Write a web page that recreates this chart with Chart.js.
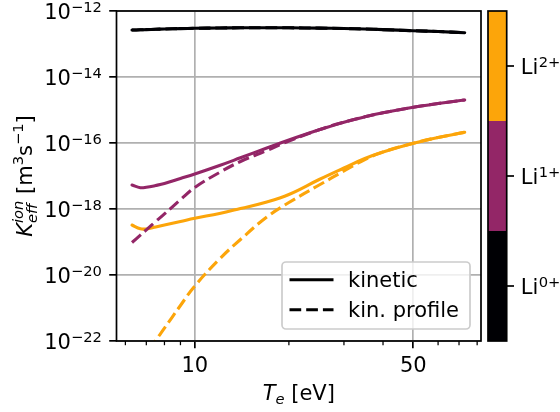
<!DOCTYPE html>
<html><head><meta charset="utf-8">
<script src="https://cdn.jsdelivr.net/npm/chart.js@4"></script>
<style>html,body{margin:0;padding:0;background:#fff}canvas{display:block}</style>
</head><body>
<canvas id="c" width="560" height="412"></canvas>
<script>
// ---- data ----
const temperatures = [6.3, 6.7, 7, 7.5, 8, 9, 10, 12, 14, 17, 20, 25, 30, 35, 40, 50, 60, 73];
const li0Kinetic = [2.65e-13, 2.69e-13, 2.73e-13, 2.79e-13, 2.85e-13, 2.93e-13, 2.99e-13, 3.05e-13, 3.10e-13, 3.12e-13, 3.10e-13, 3.03e-13, 2.95e-13, 2.85e-13, 2.73e-13, 2.53e-13, 2.39e-13, 2.20e-13];
const li0Profile = [2.65e-13, 2.69e-13, 2.73e-13, 2.79e-13, 2.85e-13, 2.93e-13, 2.99e-13, 3.05e-13, 3.10e-13, 3.12e-13, 3.10e-13, 3.03e-13, 2.95e-13, 2.85e-13, 2.73e-13, 2.53e-13, 2.39e-13, 2.20e-13];
const li1Kinetic = [5.33e-18, 4.42e-18, 4.55e-18, 5.15e-18, 5.93e-18, 8.39e-18, 1.15e-17, 2.08e-17, 3.56e-17, 7.05e-17, 1.23e-16, 2.51e-16, 4.27e-16, 6.22e-16, 8.22e-16, 1.21e-15, 1.57e-15, 2.01e-15];
const li1Profile = [9.66e-20, 1.62e-19, 2.33e-19, 4.18e-19, 7.11e-19, 1.91e-18, 4.49e-18, 1.28e-17, 2.75e-17, 5.93e-17, 1.15e-16, 2.51e-16, 4.27e-16, 6.22e-16, 8.22e-16, 1.21e-15, 1.57e-15, 2.01e-15];
const li2Kinetic = [3.27e-19, 2.51e-19, 2.48e-19, 2.85e-19, 3.27e-19, 4.18e-19, 5.23e-19, 7.31e-19, 1.035e-18, 1.63e-18, 2.75e-18, 7.83e-18, 1.75e-17, 3.39e-17, 5.33e-17, 9.80e-17, 1.47e-16, 2.11e-16];
const li2Profile = [7.16e-24, 1.94e-23, 3.82e-23, 1.04e-22, 2.44e-22, 1.19e-21, 4.64e-21, 3.05e-20, 1.19e-19, 5.73e-19, 1.57e-18, 5.33e-18, 1.42e-17, 3.16e-17, 5.33e-17, 9.80e-17, 1.47e-16, 2.11e-16];

const xMajorTicks = [10, 50];
const xMinorTicks = [6, 7, 8, 9, 20, 30, 40, 60, 70, 80];
const yTickExponents = [-22, -20, -18, -16, -14, -12];
const chargeStates = ['0+', '1+', '2+'];
const stateColors = ['#000004', '#932667', '#fca50a'];
const legendLabels = ['kinetic', 'kin. profile'];

// ---- styling ----
const FONT = '"DejaVu Sans"';
const FS = 21, FSS = 14.7;
const LW = 3.1, DASH = [11.7, 5.0];

function series(vals) { return temperatures.map((t, i) => ({ x: t, y: vals[i] })); }
function ds(label, vals, color, dashed) {
  return {
    label, data: series(vals), borderColor: color, backgroundColor: color,
    borderWidth: LW, borderDash: dashed ? DASH : [], borderCapStyle: dashed ? 'butt' : 'round',
    pointRadius: 0, tension: 0.4, clip: 0, fill: false
  };
}

function runs(c, x, y, list, draw) {
  let cx = x;
  for (const r of list) {
    if (r.stack) {
      let w = 0;
      for (const q of r.stack) {
        c.font = (q.it ? 'italic ' : '') + q.s + 'px ' + FONT;
        if (draw) c.fillText(q.t, cx, y + (q.dy || 0));
        w = Math.max(w, c.measureText(q.t).width);
      }
      cx += w;
    } else {
      c.font = (r.it ? 'italic ' : '') + r.s + 'px ' + FONT;
      if (draw) c.fillText(r.t, cx, y + (r.dy || 0));
      cx += c.measureText(r.t).width;
    }
  }
  return cx - x;
}

const decor = {
  id: 'decor',
  afterDatasetsDraw(chart) {
    const c = chart.ctx, a = chart.chartArea;
    c.save();
    c.strokeStyle = '#000'; c.lineWidth = 1.7;
    c.strokeRect(a.left, a.top, a.right - a.left, a.bottom - a.top);
    c.restore();
  },
  afterDraw(chart) {
    const c = chart.ctx, a = chart.chartArea;
    const xs = chart.scales.x, ys = chart.scales.y;
    c.save();
    c.fillStyle = '#000'; c.strokeStyle = '#000'; c.textBaseline = 'alphabetic';
    // minor x ticks
    c.lineWidth = 1.26;
    for (const v of xMinorTicks) {
      const px = xs.getPixelForValue(v);
      c.beginPath(); c.moveTo(px, a.bottom); c.lineTo(px, a.bottom + 4.2); c.stroke();
    }
    // y tick labels 10^e
    const right = a.left - 7.3 - 7.3;
    for (const e of yTickExponents) {
      const py = ys.getPixelForValue(Math.pow(10, e));
      const sup = '\u2212' + Math.abs(e);
      c.font = FSS + 'px ' + FONT; const ws = c.measureText(sup).width;
      c.font = FS + 'px ' + FONT; const wb = c.measureText('10').width;
      c.fillText('10', right - ws - wb, py + 7.5);
      c.font = FSS + 'px ' + FONT;
      c.fillText(sup, right - ws, py + 1.2);
    }
    // x axis label
    const xl = [{ t: 'T', s: FS, it: true }, { t: 'e', s: FSS, it: true, dy: 4.5 }, { t: ' [eV]', s: FS }];
    const wx = runs(c, 0, 0, xl, false);
    runs(c, (a.left + a.right) / 2 - wx / 2, 399.5, xl, true);
    // y axis label (rotated)
    const yl = [{ t: 'K', s: FS, it: true },
      { stack: [{ t: 'eff', s: FSS, it: true, dy: 5 }, { t: 'ion', s: FSS, it: true, dy: -8.5 }] },
      { t: ' [m', s: FS }, { t: '3', s: FSS, dy: -8.5 }, { t: 's', s: FS }, { t: '\u22121', s: FSS, dy: -8.5 }, { t: ']', s: FS }];
    const wy = runs(c, 0, 0, yl, false);
    c.save();
    c.translate(31.5, (a.top + a.bottom) / 2);
    c.rotate(-Math.PI / 2);
    runs(c, -wy / 2, 0, yl, true);
    c.restore();
    // legend
    const bw = 188, bh = 67;
    const bx = a.right - 11 - bw, by = a.bottom - 12 - bh;
    c.save();
    c.beginPath(); c.roundRect(bx, by, bw, bh, 4);
    c.fillStyle = 'rgba(255,255,255,0.8)'; c.fill();
    c.strokeStyle = '#cccccc'; c.lineWidth = 1.7; c.stroke();
    c.restore();
    legendLabels.forEach((lab, i) => {
      const cy = by + 17.7 + i * 30;
      c.save();
      c.strokeStyle = '#000'; c.lineWidth = LW;
      c.setLineDash(i === 1 ? DASH : []);
      c.beginPath(); c.moveTo(bx + 7.5, cy); c.lineTo(bx + 51.5, cy); c.stroke();
      c.restore();
      c.font = FS + 'px ' + FONT; c.fillStyle = '#000';
      c.fillText(lab, bx + 66, cy + 7);
    });
    // colorbar
    const cbx = a.right + 7, cbw = 18.7;
    const segH = (a.bottom - a.top) / chargeStates.length;
    chargeStates.forEach((s, i) => {
      const top = a.bottom - (i + 1) * segH;
      c.fillStyle = stateColors[i];
      c.fillRect(cbx, top, cbw, segH);
    });
    c.strokeStyle = '#000'; c.lineWidth = 1.7;
    c.strokeRect(cbx, a.top, cbw, a.bottom - a.top);
    chargeStates.forEach((s, i) => {
      const cy = a.bottom - (i + 0.5) * segH;
      c.beginPath(); c.moveTo(cbx + cbw, cy); c.lineTo(cbx + cbw + 7.3, cy); c.stroke();
      c.fillStyle = '#000';
      c.font = FS + 'px ' + FONT;
      c.fillText('Li', cbx + cbw + 14, cy + 7.5);
      const wl = c.measureText('Li').width;
      c.font = FSS + 'px ' + FONT;
      c.fillText(s, cbx + cbw + 14 + wl + 0.5, cy + 0.5);
    });
    c.restore();
  }
};

new Chart(document.getElementById('c'), {
  type: 'line',
  data: {
    datasets: [
      ds('Li0+ kinetic', li0Kinetic, stateColors[0], false),
      ds('Li0+ kin. profile', li0Profile, stateColors[0], true),
      ds('Li1+ kinetic', li1Kinetic, stateColors[1], false),
      ds('Li1+ kin. profile', li1Profile, stateColors[1], true),
      ds('Li2+ kinetic', li2Kinetic, stateColors[2], false),
      ds('Li2+ kin. profile', li2Profile, stateColors[2], true)
    ]
  },
  options: {
    responsive: false, animation: false, devicePixelRatio: 1,
    layout: { padding: { top: 11, right: 79, left: 0, bottom: 0 } },
    plugins: { legend: { display: false }, tooltip: { enabled: false } },
    scales: {
      x: {
        type: 'logarithmic', min: 5.62, max: 82.3,
        afterBuildTicks: s => { s.ticks = xMajorTicks.map(v => ({ value: v })); },
        afterFit: s => { s.height = 71; },
        border: { display: false },
        grid: { color: '#b0b0b0', lineWidth: 1.7, tickColor: '#000', tickWidth: 1.7, tickLength: 7.3 },
        ticks: { autoSkip: false, maxRotation: 0, minRotation: 0, color: '#000', padding: 6,
                 font: { family: 'DejaVu Sans', size: FS }, callback: v => String(v) }
      },
      y: {
        type: 'logarithmic', min: 1e-22, max: 1e-12,
        afterBuildTicks: s => { s.ticks = yTickExponents.map(e => ({ value: Math.pow(10, e) })); },
        afterFit: s => { s.width = 116.5; },
        border: { display: false },
        grid: { color: '#b0b0b0', lineWidth: 1.7, tickColor: '#000', tickWidth: 1.7, tickLength: 7.3 },
        ticks: { autoSkip: false, padding: 0, callback: () => '' }
      }
    }
  },
  plugins: [decor]
});
</script>
</body></html>
